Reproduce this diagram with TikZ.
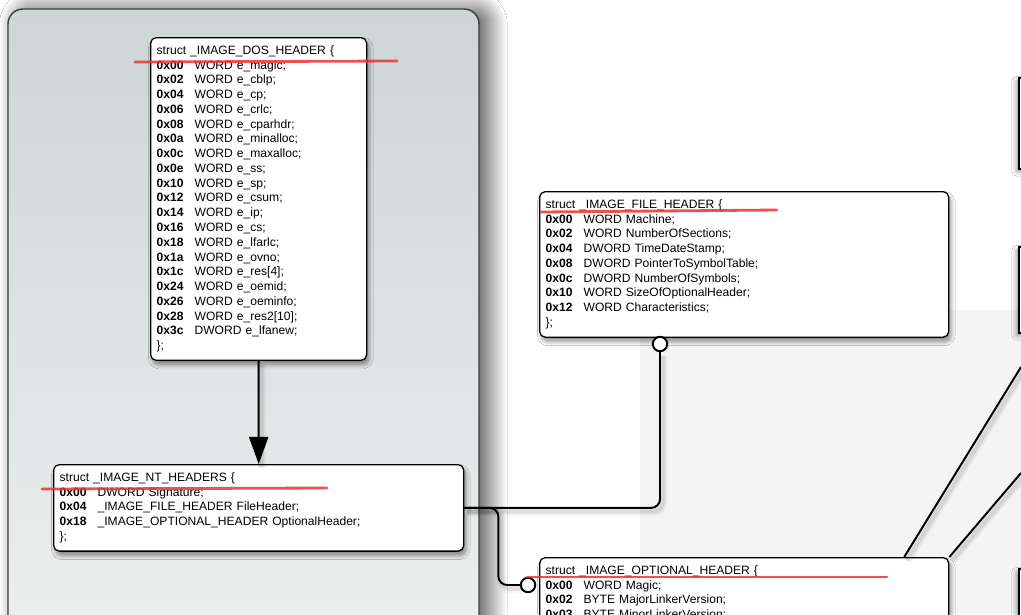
\documentclass[tikz,border=0pt]{standalone}
\usepackage{fontspec}
\setmainfont{Liberation Sans}
\usepackage{xcolor}
\usepackage{tikz}
\usetikzlibrary{arrows.meta,shadows.blur,calc}

\definecolor{panelTop}{RGB}{205,213,213}
\definecolor{panelBot}{RGB}{238,239,239}
\definecolor{panelEdge}{RGB}{60,60,60}
\definecolor{pageGrey}{RGB}{244,244,244}
\definecolor{scribbleRed}{RGB}{236,50,50}

\begin{document}
\begin{tikzpicture}[x=0.025cm, y=-0.025cm,
  structbox/.style={draw, line width=0.9pt, rounded corners=4pt, fill=white,
    anchor=north west, inner xsep=0.15cm, inner ysep=4.5pt, align=left,
    font=\fontsize{8.6}{10.5}\selectfont,
    blur shadow={shadow xshift=1.5pt, shadow yshift=-3pt, shadow blur radius=3pt,
      shadow blur steps=10, shadow opacity=45}},
  link/.style={line width=1.4pt, rounded corners=0.22cm,
    preaction={draw, arrows=-, line width=6pt, black, opacity=0.05, transform canvas={xshift=2pt, yshift=-2.5pt}},
    preaction={draw, arrows=-, line width=3pt, black, opacity=0.08, transform canvas={xshift=2pt, yshift=-2.5pt}}},
  dot/.style={circle, draw, line width=1.4pt, fill=white, inner sep=0pt, minimum size=0.36cm},
  edgebox/.style={draw, line width=0.9pt, fill=white,
    blur shadow={shadow xshift=-2pt, shadow yshift=-2pt, shadow blur radius=3pt, shadow opacity=40}},
  scribble/.style={scribbleRed, line width=2pt, opacity=0.85, line cap=round}]
  \useasboundingbox (0,0) rectangle (1021,614);
  \clip (0,0) rectangle (1021,614);

  % page background
  \fill[white] (0,0) rectangle (1021,614);
  \fill[pageGrey] (640,310) rectangle (1021,614);

  % grey panel on the left
  \draw[panelEdge, line width=1pt, rounded corners=0.375cm, top color=panelTop, bottom color=panelBot,
    blur shadow={shadow xshift=7pt, shadow yshift=0pt, shadow blur radius=13pt,
      shadow blur steps=40, shadow opacity=70}]
    (8,9) rectangle (479,650);

  % boxes cut off at the right edge
  \foreach \ya/\yb in {78/169, 247/333, 569/660}
    \draw[edgebox] (1019,\ya) rectangle (1060,\yb);

  % structs
  \node[structbox, text width=5.1cm] (dos) at (150,37) {%
    \begin{tabular}[t]{@{}p{27pt}@{}l@{}}
      \multicolumn{2}{@{}l@{}}{struct \_IMAGE\_DOS\_HEADER \{}\\
      \textbf{0x00} & WORD e\_magic;\\
      \textbf{0x02} & WORD e\_cblp;\\
      \textbf{0x04} & WORD e\_cp;\\
      \textbf{0x06} & WORD e\_crlc;\\
      \textbf{0x08} & WORD e\_cparhdr;\\
      \textbf{0x0a} & WORD e\_minalloc;\\
      \textbf{0x0c} & WORD e\_maxalloc;\\
      \textbf{0x0e} & WORD e\_ss;\\
      \textbf{0x10} & WORD e\_sp;\\
      \textbf{0x12} & WORD e\_csum;\\
      \textbf{0x14} & WORD e\_ip;\\
      \textbf{0x16} & WORD e\_cs;\\
      \textbf{0x18} & WORD e\_lfarlc;\\
      \textbf{0x1a} & WORD e\_ovno;\\
      \textbf{0x1c} & WORD e\_res[4];\\
      \textbf{0x24} & WORD e\_oemid;\\
      \textbf{0x26} & WORD e\_oeminfo;\\
      \textbf{0x28} & WORD e\_res2[10];\\
      \textbf{0x3c} & DWORD e\_lfanew;\\
      \};
    \end{tabular}};

  \node[structbox, text width=9.925cm] (fh) at (539,191) {%
    \begin{tabular}[t]{@{}p{27pt}@{}l@{}}
      \multicolumn{2}{@{}l@{}}{struct \_IMAGE\_FILE\_HEADER \{}\\
      \textbf{0x00} & WORD Machine;\\
      \textbf{0x02} & WORD NumberOfSections;\\
      \textbf{0x04} & DWORD TimeDateStamp;\\
      \textbf{0x08} & DWORD PointerToSymbolTable;\\
      \textbf{0x0c} & DWORD NumberOfSymbols;\\
      \textbf{0x10} & WORD SizeOfOptionalHeader;\\
      \textbf{0x12} & WORD Characteristics;\\
      \};
    \end{tabular}};

  \node[structbox, text width=9.95cm] (nt) at (53,464) {%
    \begin{tabular}[t]{@{}p{27pt}@{}l@{}}
      \multicolumn{2}{@{}l@{}}{struct \_IMAGE\_NT\_HEADERS \{}\\
      \textbf{0x00} & DWORD Signature;\\
      \textbf{0x04} & \_IMAGE\_FILE\_HEADER FileHeader;\\
      \textbf{0x18} & \_IMAGE\_OPTIONAL\_HEADER OptionalHeader;\\
      \};
    \end{tabular}};

  \node[structbox, text width=9.925cm] (opt) at (539,557) {%
    \begin{tabular}[t]{@{}p{27pt}@{}l@{}}
      \multicolumn{2}{@{}l@{}}{struct \_IMAGE\_OPTIONAL\_HEADER \{}\\
      \textbf{0x00} & WORD Magic;\\
      \textbf{0x02} & BYTE MajorLinkerVersion;\\
      \textbf{0x03} & BYTE MinorLinkerVersion;
    \end{tabular}};

  % connectors
  \node[dot] (fhdot) at (660,344) {};
  \node[dot] (optdot) at (528,585) {};
  \coordinate (exitA) at (1021,367);
  \coordinate (exitB) at (1021,473);

  \draw[link, sharp corners, -{Triangle[width=0.48cm, length=0.68cm, fill=black]}] (dos.south) -- (nt.north);
  \draw[link] (nt.east) -| (fhdot.south);
  \draw[link] (nt.east) -- ++(34,0) |- (optdot.west);
  \draw[link] ($(opt.north west)!0.89!(opt.north east)$) -- (exitA);
  \draw[link] (opt.north east) -- (exitB);

  % red marks
  \draw[scribble] (135,62) -- (397,61);
  \draw[scribble] (541,212) -- (777,210);
  \draw[scribble] (42,489) -- (327,488);
  \draw[scribble] (527,577) -- (887,577);
\end{tikzpicture}
\end{document}
